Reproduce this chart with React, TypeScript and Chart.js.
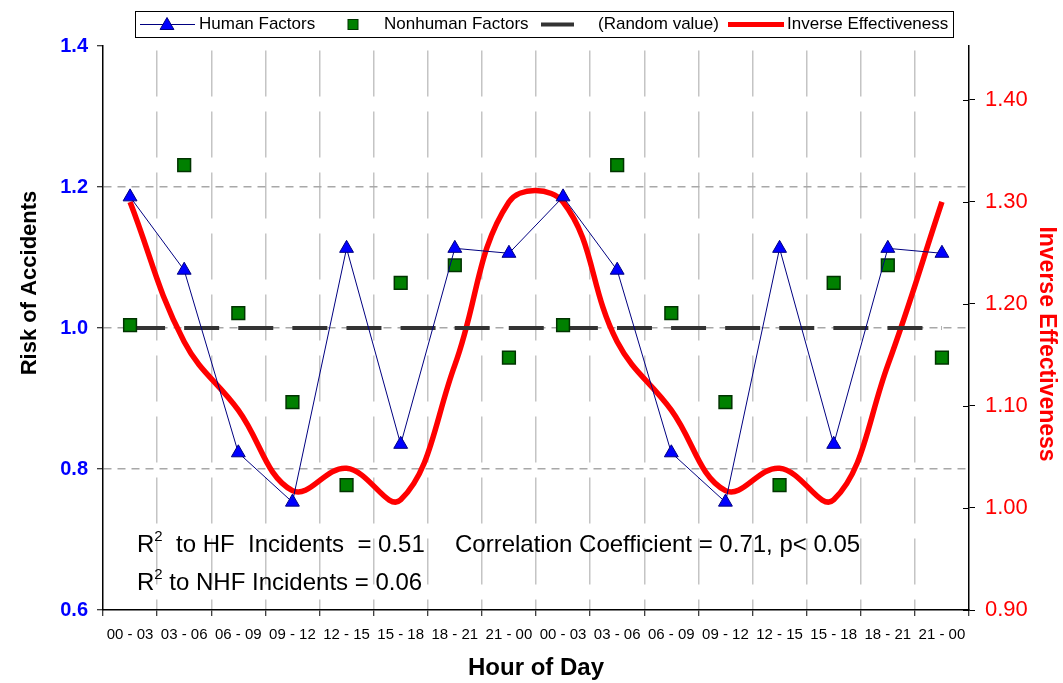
import { useEffect, useRef } from "react";
import { Chart, registerables } from "chart.js";

Chart.register(...registerables);

const categories = [
  "00 - 03", "03 - 06", "06 - 09", "09 - 12", "12 - 15", "15 - 18", "18 - 21", "21 - 00",
  "00 - 03", "03 - 06", "06 - 09", "09 - 12", "12 - 15", "15 - 18", "18 - 21", "21 - 00",
];
const humanFactors = [
  1.186, 1.082, 0.823, 0.753, 1.113, 0.835, 1.113, 1.106,
  1.186, 1.082, 0.823, 0.753, 1.113, 0.835, 1.113, 1.106,
];
const nonhumanFactors = [
  1.004, 1.231, 1.021, 0.895, 0.777, 1.064, 1.089, 0.958,
  1.004, 1.231, 1.021, 0.895, 0.777, 1.064, 1.089, 0.958,
];
const randomValue = [
  1.0, 1.0, 1.0, 1.0, 1.0, 1.0, 1.0, 1.0,
  1.0, 1.0, 1.0, 1.0, 1.0, 1.0, 1.0, 1.0,
];
const inverseEffectiveness = [
  1.3, 1.163, 1.096, 1.017, 1.039, 1.008, 1.14, 1.3,
  1.3, 1.163, 1.096, 1.017, 1.039, 1.008, 1.14, 1.3,
];
const leftTicks = [0.6, 0.8, 1.0, 1.2, 1.4];
const rightTicks = [0.9, 1.0, 1.1, 1.2, 1.3, 1.4];
const legendLabels = ["Human Factors", "Nonhuman Factors", "(Random value)", "Inverse Effectiveness"];
const xTitle = "Hour of Day";
const yTitle = "Risk of Accidents";
const y1Title = "Inverse Effectiveness";
const annotations = [
  { pre: "R", sup: "2", post: "  to HF  Incidents  = 0.51" },
  { pre: "R", sup: "2", post: " to NHF Incidents = 0.06" },
  { pre: "Correlation Coefficient = 0.71, p< 0.05", sup: "", post: "" },
];

const FONT = "'Liberation Sans', Arial, sans-serif";

function drawTriangle(ctx: CanvasRenderingContext2D, x: number, y: number, r: number) {
  ctx.beginPath();
  for (let k = 0; k < 3; k++) {
    const a = -Math.PI / 2 + (k * 2 * Math.PI) / 3;
    const px = x + r * Math.cos(a);
    const py = y + r * Math.sin(a);
    if (k === 0) ctx.moveTo(px, py);
    else ctx.lineTo(px, py);
  }
  ctx.closePath();
  ctx.fillStyle = "#0000FF";
  ctx.fill();
  ctx.strokeStyle = "#000080";
  ctx.lineWidth = 1;
  ctx.stroke();
}

const decorPlugin = {
  id: "decor",
  afterDraw(chart: any) {
    const ctx: CanvasRenderingContext2D = chart.ctx;
    const y1 = chart.scales.y1;
    const area = chart.chartArea;
    ctx.save();

    // inner tick marks on right axis
    ctx.strokeStyle = "#000";
    ctx.lineWidth = 1;
    for (const v of rightTicks) {
      const py = Math.round(y1.getPixelForValue(v)) + 0.5;
      ctx.beginPath();
      ctx.moveTo(area.right - 6, py);
      ctx.lineTo(area.right, py);
      ctx.stroke();
    }

    // legend box
    ctx.fillStyle = "#fff";
    ctx.fillRect(135, 11, 818, 26);
    ctx.strokeStyle = "#000";
    ctx.lineWidth = 1;
    ctx.strokeRect(135.5, 11.5, 818, 26);
    const ly = 24.5;
    ctx.strokeStyle = "#000080";
    ctx.lineWidth = 1;
    ctx.beginPath();
    ctx.moveTo(140, ly);
    ctx.lineTo(195, ly);
    ctx.stroke();
    drawTriangle(ctx, 167, ly + 1, 8);
    ctx.fillStyle = "#008000";
    ctx.fillRect(348, ly - 5, 10, 10);
    ctx.strokeStyle = "#003300";
    ctx.strokeRect(348, ly - 5, 10, 10);
    ctx.strokeStyle = "#333333";
    ctx.lineWidth = 4;
    ctx.beginPath();
    ctx.moveTo(541, ly);
    ctx.lineTo(574, ly);
    ctx.stroke();
    ctx.strokeStyle = "#FF0000";
    ctx.lineWidth = 5;
    ctx.beginPath();
    ctx.moveTo(728, ly);
    ctx.lineTo(784, ly);
    ctx.stroke();

    ctx.fillStyle = "#000";
    ctx.font = `17px ${FONT}`;
    ctx.textBaseline = "middle";
    ctx.textAlign = "left";
    ctx.fillText(legendLabels[0], 199, ly);
    ctx.fillText(legendLabels[1], 384, ly);
    ctx.fillText(legendLabels[2], 598, ly);
    ctx.fillText(legendLabels[3], 787, ly);

    // annotations
    const drawAnn = (a: { pre: string; sup: string; post: string }, x: number, y: number) => {
      ctx.textBaseline = "alphabetic";
      ctx.font = `24px ${FONT}`;
      ctx.fillText(a.pre, x, y);
      let cx = x + ctx.measureText(a.pre).width;
      if (a.sup) {
        ctx.font = `15px ${FONT}`;
        ctx.fillText(a.sup, cx, y - 11);
        cx += ctx.measureText(a.sup).width;
      }
      ctx.font = `24px ${FONT}`;
      ctx.fillText(a.post, cx, y);
    };
    drawAnn(annotations[0], 137, 552);
    drawAnn(annotations[1], 137, 590);
    drawAnn(annotations[2], 455, 552);

    // axis titles
    ctx.fillStyle = "#000";
    ctx.font = `bold 24px ${FONT}`;
    ctx.textAlign = "center";
    ctx.textBaseline = "middle";
    ctx.fillText(xTitle, 536, 668);

    ctx.save();
    ctx.translate(30, 283);
    ctx.rotate(-Math.PI / 2);
    ctx.font = `bold 22px ${FONT}`;
    ctx.fillText(yTitle, 0, 0);
    ctx.restore();

    ctx.save();
    ctx.translate(1046, 344);
    ctx.rotate(Math.PI / 2);
    ctx.fillStyle = "#FF0000";
    ctx.font = `bold 23px ${FONT}`;
    ctx.fillText(y1Title, 0, 0);
    ctx.restore();

    ctx.restore();
  },
};

export default function App() {
  const ref = useRef<HTMLCanvasElement | null>(null);

  useEffect(() => {
    if (!ref.current) return;
    const chart = new Chart(ref.current, {
      type: "line",
      data: {
        labels: categories,
        datasets: [
          {
            label: legendLabels[0],
            data: humanFactors,
            yAxisID: "y",
            borderColor: "#000080",
            borderWidth: 1,
            pointStyle: "triangle",
            pointRadius: 8,
            pointBackgroundColor: "#0000FF",
            pointBorderColor: "#000080",
            pointBorderWidth: 1,
            tension: 0,
          },
          {
            label: legendLabels[1],
            data: nonhumanFactors,
            yAxisID: "y",
            showLine: false,
            pointStyle: "rect",
            pointRadius: 9,
            pointBackgroundColor: "#008000",
            pointBorderColor: "#003300",
            pointBorderWidth: 1.5,
          },
          {
            label: legendLabels[2],
            data: randomValue,
            yAxisID: "y",
            borderColor: "#333333",
            borderWidth: 4,
            borderDash: [35, 19.1],
            pointRadius: 0,
            tension: 0,
          },
          {
            label: legendLabels[3],
            data: inverseEffectiveness,
            yAxisID: "y1",
            borderColor: "#FF0000",
            borderWidth: 5.5,
            pointRadius: 0,
            tension: 0.4,
          },
        ],
      },
      options: {
        responsive: false,
        animation: false,
        devicePixelRatio: 1,
        layout: { padding: { top: 46, left: 0, right: 0, bottom: 0 } },
        plugins: {
          legend: { display: false },
          tooltip: { enabled: false },
        },
        scales: {
          x: {
            type: "category",
            offset: true,
            grid: {
              offset: true,
              color: (c: any) => (c.type !== "tick" || c.index === 0 ? "rgba(0,0,0,0)" : "#c4c4c4"),
              lineWidth: 1.5,
              drawTicks: true,
              tickLength: 6,
              tickColor: "#000",
              tickWidth: 1,
            },
            border: { color: "#000", width: 1.5, dash: [46, 15], dashOffset: 56.6 },
            ticks: {
              color: "#000",
              font: { family: FONT, size: 15 },
              padding: 10,
              maxRotation: 0,
              autoSkip: false,
            },
            afterFit: (s: any) => {
              s.height = 73;
            },
          },
          y: {
            position: "left",
            min: leftTicks[0],
            max: leftTicks[leftTicks.length - 1],
            ticks: {
              stepSize: 0.2,
              color: "#0000FF",
              font: { family: FONT, size: 20, weight: "bold" },
              padding: 9,
              callback: (v: any) => Number(v).toFixed(1),
            },
            grid: {
              color: (c: any) => {
                const v = c.tick ? c.tick.value : null;
                if (v === null || Math.abs(v - 0.6) < 1e-6 || Math.abs(v - 1.4) < 1e-6) return "rgba(0,0,0,0)";
                return "#a8a8a8";
              },
              lineWidth: 1.5,
              tickLength: 6,
              tickColor: "#000",
              tickWidth: 1,
            },
            border: { color: "#000", width: 1.5, dash: [8, 6] },
            afterFit: (s: any) => {
              s.width = 103;
            },
          },
          y1: {
            position: "right",
            min: rightTicks[0],
            max: 1.4529,
            ticks: {
              stepSize: 0.1,
              color: "#FF0000",
              font: { family: FONT, size: 22 },
              padding: 10,
              callback: (v: any) => Number(v).toFixed(2),
            },
            afterBuildTicks: (s: any) => {
              s.ticks = s.ticks.filter((t: any) => t.value <= 1.4001);
            },
            grid: {
              drawOnChartArea: false,
              tickLength: 6,
              tickColor: "#000",
              tickWidth: 1,
              color: "#000",
            },
            border: { color: "#000", width: 1.5 },
            afterFit: (s: any) => {
              s.width = 94;
            },
          },
        },
      },
      plugins: [decorPlugin],
    });
    return () => chart.destroy();
  }, []);

  return (
    <div style={{ position: "absolute", left: 0, top: 0, width: 1063, height: 683, background: "#fff" }}>
      <canvas ref={ref} width={1063} height={683} style={{ display: "block" }} />
    </div>
  );
}
